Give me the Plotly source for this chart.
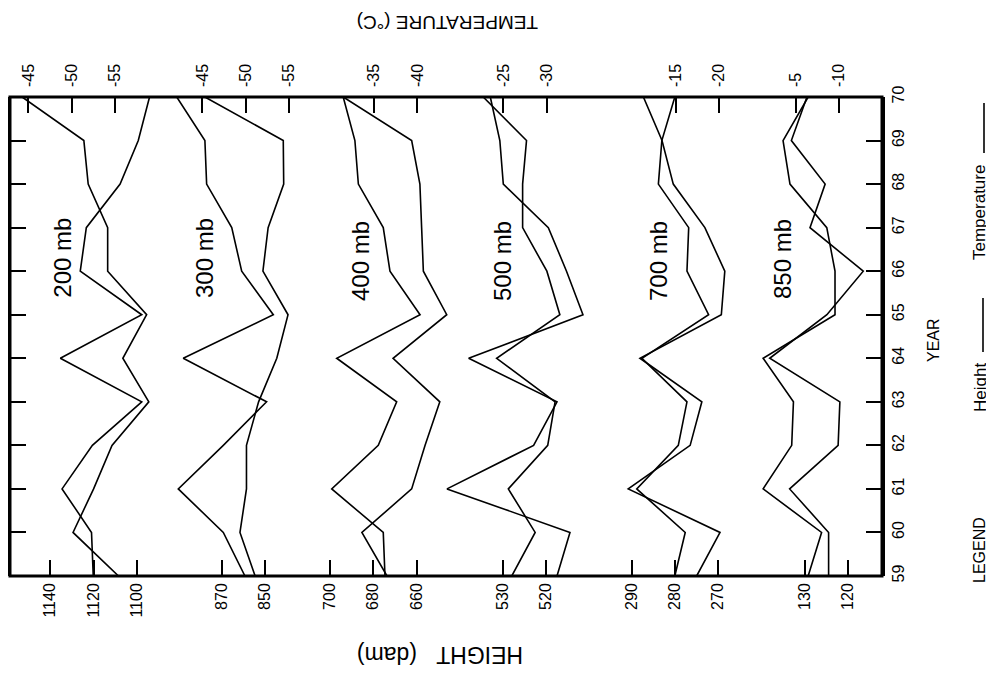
import plotly.graph_objects as go

# ---------------- data (values for years 1959 .. 1970) ----------------
years = [59, 60, 61, 62, 63, 64, 65, 66, 67, 68, 69, 70]
levels = ["200 mb", "300 mb", "400 mb", "500 mb", "700 mb", "850 mb"]

height_200 = [1108.5, 1129.5, 1120.0, 1111.5, 1094.5, 1106.5, 1095.5, 1113.5, 1113.5, 1122.5, 1124.5, 1153.0]
temp_200 = [-52.5, -52.3, -48.9, -52.4, -58.1, -48.7, -58.1, -51.0, -51.7, -55.6, -57.7, -59.0]

height_300 = [859.4, 869.4, 890.2, 869.4, 849.4, 887.9, 846.3, 860.9, 865.5, 877.1, 877.9, 890.9]
temp_300 = [-51.1, -49.35, -50.1, -50.1, -51.5, -53.6, -54.9, -52.0, -52.6, -54.4, -54.35, -45.3]

height_400 = [674.6, 675.4, 699.2, 677.7, 669.2, 696.9, 658.4, 672.3, 675.4, 686.9, 688.5, 693.9]
temp_400 = [-36.5, -33.6, -39.35, -40.9, -42.6, -37.2, -43.4, -40.7, -40.5, -40.3, -39.35, -31.45]

height_500 = [527.9, 522.5, 528.7, 519.6, 517.9, 531.4, 516.8, 519.8, 525.4, 525.4, 524.5, 534.5]
temp_500 = [-31.2, -32.7, -18.5, -28.5, -31.2, -21.0, -34.2, -32.3, -30.2, -25.0, -24.6, -23.5]

height_700 = [275.0, 269.6, 290.8, 276.5, 273.8, 288.1, 269.3, 268.5, 273.1, 280.4, 283.0, 287.3]
temp_700 = [-14.9, -16.1, -10.5, -15.3, -16.3, -11.1, -18.8, -16.3, -16.5, -13.0, -13.4, -14.9]

height_850 = [129.2, 126.1, 139.6, 133.0, 132.6, 139.6, 123.0, 123.0, 124.9, 133.4, 135.0, 129.2]
temp_850 = [-8.8, -8.8, -4.3, -9.9, -10.1, -2.0, -8.6, -12.8, -6.65, -8.4, -4.5, -6.3]

heights = [height_200, height_300, height_400, height_500, height_700, height_850]
temps = [temp_200, temp_300, temp_400, temp_500, temp_700, temp_850]

height_ticks = [[1140, 1120, 1100], [870, 850], [700, 680, 660], [530, 520], [290, 280, 270], [130, 120]]
temp_ticks = [[-45, -50, -55], [-45, -50, -55], [-35, -40], [-25, -30], [-15, -20], [-5, -10]]

# ---------------- layout geometry ----------------
W, H = 994, 675
OFF = 8                                 # page body margin of the html page
L, R, T, B = 10, 882, 97, 576           # plot frame in screen pixels
STEP_PX = 43.3                          # pixels between neighbouring ticks
height_step = [20, 20, 20, 10, 10, 10]
temp_step = 5
height_anchor_px = [50.3, 222.0, 330.0, 502.7, 631.7, 804.7]   # pixel of first height tick
temp_anchor_px = [28.3, 202.3, 374.0, 503.3, 675.7, 795.7]     # pixel of first temperature tick


def axis_range(v0, p0, step):
    # values decrease from left to right
    per_px = step / STEP_PX
    return [v0 + (p0 - L) * per_px, v0 - (R - p0) * per_px]


def px(xp):
    return (xp - L) / (R - L)


def py(yp):
    return (B - yp) / (B - T)


FONT = "Liberation Sans, Arial, sans-serif"

fig = go.Figure()
layout = dict(
    template="none",
    width=W, height=H,
    margin=dict(l=L - OFF, r=W - (R - OFF), t=T - OFF, b=H - (B - OFF), pad=0, autoexpand=False),
    paper_bgcolor="white", plot_bgcolor="white",
    showlegend=False,
    font=dict(family=FONT, size=16, color="black"),
)

for i in range(6):
    hx = 2 * i + 1
    tx = 2 * i + 2
    hname = "x" if hx == 1 else f"x{hx}"
    tname = f"x{tx}"
    fig.add_trace(go.Scatter(x=heights[i], y=years, xaxis=hname, yaxis="y", mode="lines",
                             line=dict(color="black", width=1.6), name=f"Height {levels[i]}"))
    fig.add_trace(go.Scatter(x=temps[i], y=years, xaxis=tname, yaxis="y", mode="lines",
                             line=dict(color="black", width=1.6), name=f"Temperature {levels[i]}"))
    hkey = "xaxis" if hx == 1 else f"xaxis{hx}"
    common = dict(domain=[0, 1], anchor="y", showgrid=False, zeroline=False, showline=False,
                  automargin=False,
                  ticks="inside", ticklen=16, tickwidth=2.2, tickcolor="black",
                  tickangle=-90, tickfont=dict(family=FONT, size=16, color="black"))
    hax = dict(common, side="bottom", ticklabelstandoff=3,
               range=axis_range(height_ticks[i][0], height_anchor_px[i], height_step[i]),
               tickmode="array", tickvals=height_ticks[i],
               ticktext=[str(v) for v in height_ticks[i]])
    if hx != 1:
        hax["overlaying"] = "x"
    layout[hkey] = hax
    layout[f"xaxis{tx}"] = dict(common, side="top", overlaying="x", ticklabelstandoff=9,
                                range=axis_range(temp_ticks[i][0], temp_anchor_px[i], temp_step),
                                tickmode="array", tickvals=temp_ticks[i],
                                ticktext=["-" + str(abs(v)) for v in temp_ticks[i]])

layout["yaxis"] = dict(range=[59, 70], side="right", showgrid=False, zeroline=False,
                       automargin=False,
                       showline=True, linewidth=3, linecolor="black", mirror="ticks",
                       ticks="inside", ticklen=16, tickwidth=2.2, tickcolor="black",
                       tickmode="array", tickvals=years, ticktext=[str(y) for y in years],
                       tickangle=-90, tickfont=dict(family=FONT, size=16, color="black"))

fig.update_layout(**layout)

# frame
fig.add_shape(type="rect", xref="paper", yref="paper", x0=0, x1=1, y0=0, y1=1,
              line=dict(color="black", width=3), layer="above")

ann = []
label_px = [(61.7, 258), (204, 258), (360, 261), (502, 261), (658, 261), (783, 259)]
for name, (lx, ly) in zip(levels, label_px):
    ann.append(dict(x=px(lx), y=py(ly), text=name, textangle=-90,
                    font=dict(family=FONT, size=24)))
ann.append(dict(x=px(933), y=py(340), text="YEAR", textangle=-90, font=dict(family=FONT, size=16)))
ann.append(dict(x=px(440), y=py(655), text="HEIGHT\u00a0\u00a0\u00a0(dam)", textangle=180,
                font=dict(family=FONT, size=23)))
ann.append(dict(x=px(448), y=py(22), text="TEMPERATURE (°C)", textangle=180, font=dict(family=FONT, size=19)))
ann.append(dict(x=px(979), y=py(550), text="LEGEND", textangle=-90, font=dict(family=FONT, size=16)))
ann.append(dict(x=px(980), y=py(388), text="Height", textangle=-90, font=dict(family=FONT, size=17)))
ann.append(dict(x=px(980), y=py(213), text="Temperature", textangle=-90, font=dict(family=FONT, size=17)))
for a in ann:
    a.update(xref="paper", yref="paper", showarrow=False, xanchor="center", yanchor="middle")
fig.update_layout(annotations=ann)

# legend sample lines
fig.add_shape(type="line", xref="paper", yref="paper", x0=px(983), x1=px(983), y0=py(352), y1=py(298),
              line=dict(color="black", width=1.6))
fig.add_shape(type="line", xref="paper", yref="paper", x0=px(984), x1=px(984), y0=py(153), y1=py(103),
              line=dict(color="black", width=1.6))

fig.write_html("out.html")
